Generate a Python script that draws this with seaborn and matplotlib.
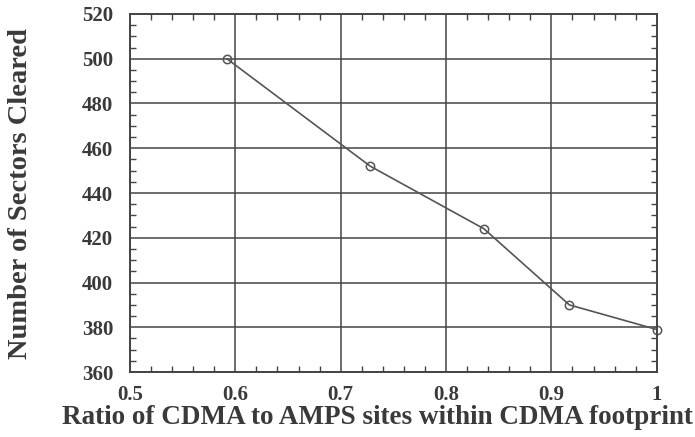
import matplotlib
matplotlib.use("Agg")
import matplotlib.pyplot as plt
import seaborn as sns
import pandas as pd
from matplotlib.ticker import MultipleLocator

ratio = [0.592, 0.728, 0.836, 0.917, 1.0]
sectors = [500, 452, 424, 390, 379]
x_ticks = [0.5, 0.6, 0.7, 0.8, 0.9, 1.0]
x_tick_labels = ["0.5", "0.6", "0.7", "0.8", "0.9", "1"]
y_ticks = [360, 380, 400, 420, 440, 460, 480, 500, 520]

sns.set_theme(style="white")
plt.rcParams["font.family"] = ["Liberation Serif", "DejaVu Serif"]
plt.rcParams["font.weight"] = "bold"

df = pd.DataFrame({"ratio": ratio, "sectors": sectors})
ink = "#444444"

fig = plt.figure(figsize=(6.95, 4.37), dpi=100)
ax = fig.add_axes([0.187, 0.1487, 0.758, 0.8193])
sns.lineplot(data=df, x="ratio", y="sectors", ax=ax, color="#555555", lw=1.2,
             marker="o", markersize=6, markerfacecolor="none",
             markeredgecolor="#555555", markeredgewidth=1.1)
for ln in ax.lines:
    ln.set_clip_on(False)

ax.set_xlim(0.5, 1.0)
ax.set_ylim(360, 520)
ax.set_xticks(x_ticks)
ax.set_xticklabels(x_tick_labels)
ax.set_yticks(y_ticks)
ax.xaxis.set_minor_locator(MultipleLocator(0.02))
ax.yaxis.set_minor_locator(MultipleLocator(5))
ax.grid(True, which="major", color=ink, lw=1.1)
ax.tick_params(which="major", length=0, labelsize=15, colors="#3a3a3a")
ax.tick_params(axis="y", which="major", pad=12)
ax.tick_params(axis="x", which="major", pad=9)
ax.tick_params(which="minor", direction="in", length=4, width=1, color=ink,
               top=True, right=True, bottom=True, left=True)
for s in ax.spines.values():
    s.set_color(ink)
    s.set_linewidth(1.4)
for lab in ax.get_xticklabels() + ax.get_yticklabels():
    lab.set_fontweight("bold")

ax.set_xlabel("Ratio of CDMA to AMPS sites within CDMA footprint",
              fontsize=19.5, fontweight="bold", color="#3a3a3a")
ax.set_ylabel("Number of Sectors Cleared",
              fontsize=20.5, fontweight="bold", color="#3a3a3a")
ax.xaxis.set_label_coords(0.4706, -0.092)
ax.yaxis.set_label_coords(-0.184, 0.5)

fig.savefig("out.png", dpi=100, facecolor="white")
